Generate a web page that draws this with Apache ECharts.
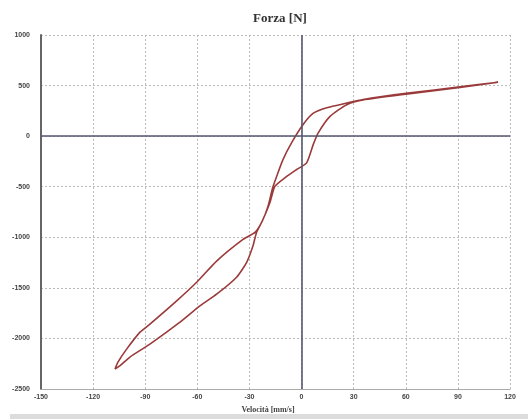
<!DOCTYPE html>
<html>
<head>
<meta charset="utf-8">
<script src="https://cdn.jsdelivr.net/npm/echarts@6/dist/echarts.min.js"></script>
<style>html,body{margin:0;padding:0;background:#fff;}#c{width:528px;height:419px;}</style>
</head>
<body>
<div id="c"></div>
<script>
// Velocity (mm/s) and force (N) samples around the hysteresis loop
const loopVelocity = [
  -107.4,-105.7,-100.7,-93.0,-87.3,-71.9,-60.4,-48.9,-33.7,-26.8,-22.7,-19.3,-16.6,-14.3,-10.7,-5.7,0.8,6.6,14.5,26.0,35.4,61.3,91.2,113.1,
  91.2,61.3,35.4,26.0,16.4,9.6,6.7,2.9,-2.8,-9.6,-15.3,-18.2,-22.7,-25.9,-28.0,-31.6,-37.4,-48.9,-58.5,-70.0,-87.3,-98.8,-104.5,-107.4
];
const loopForce = [
  -2303,-2234,-2106,-1938,-1859,-1629,-1445,-1235,-1021,-952,-843,-692,-508,-396,-232,-64,113,225,280,327,362,425,488,533,
  482,418,358,311,195,32,-84,-264,-330,-412,-495,-656,-843,-952,-1087,-1248,-1395,-1563,-1678,-1839,-2056,-2184,-2270,-2303
];
const xTicks = [-150,-120,-90,-60,-30,0,30,60,90,120];
const yTicks = [1000,500,0,-500,-1000,-1500,-2000,-2500];
const titleText = 'Forza [N]';
const xName = 'Velocità [mm/s]';

const data = loopVelocity.map((v,i)=>[v, loopForce[i]]);
const chart = echarts.init(document.getElementById('c'), null, {renderer:'canvas'});
chart.setOption({
  animation:false,
  backgroundColor:'#fff',
  title:{text:titleText,left:275,top:7,textAlign:'center',
    textStyle:{fontFamily:'Liberation Serif',fontWeight:'bold',fontSize:13,color:'#333'}},
  grid:{left:41,right:18,top:35,bottom:30,containLabel:false},
  xAxis:{type:'value',min:xTicks[0],max:xTicks[xTicks.length-1],interval:30,
    name:xName,nameLocation:'middle',nameGap:15,
    nameTextStyle:{fontFamily:'Liberation Serif',fontWeight:'bold',fontSize:8,color:'#444',padding:[0,15,0,0]},
    axisLine:{onZero:false,lineStyle:{color:'#aaa',width:1}},
    axisTick:{show:false},
    axisLabel:{fontFamily:'Liberation Sans',fontWeight:'bold',fontSize:7,color:'#444',margin:5,
      formatter:v=>String(v)},
    splitLine:{show:true,lineStyle:{color:'#bbb',type:[2,2],width:1}}},
  yAxis:{type:'value',min:yTicks[yTicks.length-1],max:yTicks[0],interval:500,
    axisLine:{show:true,onZero:false,lineStyle:{color:'#666',width:2}},
    axisTick:{show:false},
    axisLabel:{fontFamily:'Liberation Sans',fontWeight:'bold',fontSize:7,color:'#444',margin:11,
      formatter:v=>String(v)},
    splitLine:{show:true,lineStyle:{color:'#bbb',type:[2,2],width:1}}},
  graphic:[{type:'rect',shape:{x:10,y:414,width:518,height:5},style:{fill:'#dcdcdc'},silent:true}],
  series:[{
    type:'line',data:data,showSymbol:false,smooth:0.2,
    lineStyle:{color:'#9b3a3a',width:1.6},
    markLine:{silent:true,symbol:'none',label:{show:false},
      lineStyle:{color:'#55576e',width:1.6,type:'solid'},
      data:[{xAxis:0},{yAxis:0}]},
    z:3
  }]
});
</script>
</body>
</html>
